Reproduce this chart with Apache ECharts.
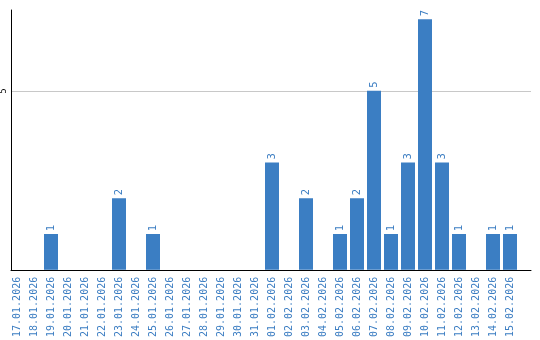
<!DOCTYPE html>
<html>
<head>
<meta charset="utf-8">
<script src="https://cdn.jsdelivr.net/npm/echarts@6/dist/echarts.min.js"></script>
<style>html,body{margin:0;padding:0;background:#fff}#c{width:540px;height:340px}</style>
</head>
<body>
<div id="c"></div>
<script>
var categories = ["17.01.2026","18.01.2026","19.01.2026","20.01.2026","21.01.2026","22.01.2026","23.01.2026","24.01.2026","25.01.2026","26.01.2026","27.01.2026","28.01.2026","29.01.2026","30.01.2026","31.01.2026","01.02.2026","02.02.2026","03.02.2026","04.02.2026","05.02.2026","06.02.2026","07.02.2026","08.02.2026","09.02.2026","10.02.2026","11.02.2026","12.02.2026","13.02.2026","14.02.2026","15.02.2026"];
var counts = [0,0,1,0,0,0,2,0,1,0,0,0,0,0,0,3,0,2,0,1,2,5,1,3,7,3,1,0,1,1];
var yMax = 7.26;
var yInterval = 5;

var chart = echarts.init(document.getElementById('c'), null, {renderer:'canvas'});
chart.setOption({
  animation: false,
  grid: [
    {left: 10, right: 9, top: 10, bottom: 70},
    {left: 8.5, width: 510, top: 10, bottom: 70}
  ],
  xAxis: [
    {gridIndex: 0, type: 'category', data: categories, axisLine: {show: true, lineStyle: {color: '#000', width: 1}}, axisTick: {show: false}, axisLabel: {show: false}, splitLine: {show: false}},
    {gridIndex: 1, type: 'category', data: categories, axisLine: {show: false}, axisTick: {show: false},
      axisLabel: {rotate: 90, interval: 0, margin: 7, color: '#3b7dc2', fontSize: 10, fontFamily: 'DejaVu Sans Mono'}}
  ],
  yAxis: [
    {gridIndex: 0, type: 'value', min: 0, max: yMax, interval: yInterval,
      axisLine: {show: true, lineStyle: {color: '#000', width: 1}}, axisTick: {show: false},
      axisLabel: {rotate: 90, margin: 3, fontSize: 8, color: '#000', fontFamily: 'DejaVu Sans', showMaxLabel: false, showMinLabel: false},
      splitLine: {show: true, showMinLine: false, showMaxLine: false, lineStyle: {color: '#c8c8c8', width: 1}}},
    {gridIndex: 1, type: 'value', min: 0, max: yMax, interval: yInterval, show: false, splitLine: {show: false}}
  ],
  series: [{
    type: 'bar', xAxisIndex: 1, yAxisIndex: 1, data: counts, barWidth: 14,
    itemStyle: {color: '#3b7ec3'},
    label: {show: true, position: 'top', rotate: 90, align: 'left', verticalAlign: 'middle', distance: 3,
      color: '#3b7dc2', fontSize: 10, fontFamily: 'DejaVu Sans',
      formatter: function(p){ return p.value ? String(p.value) : ''; }}
  }]
});
</script>
</body>
</html>
